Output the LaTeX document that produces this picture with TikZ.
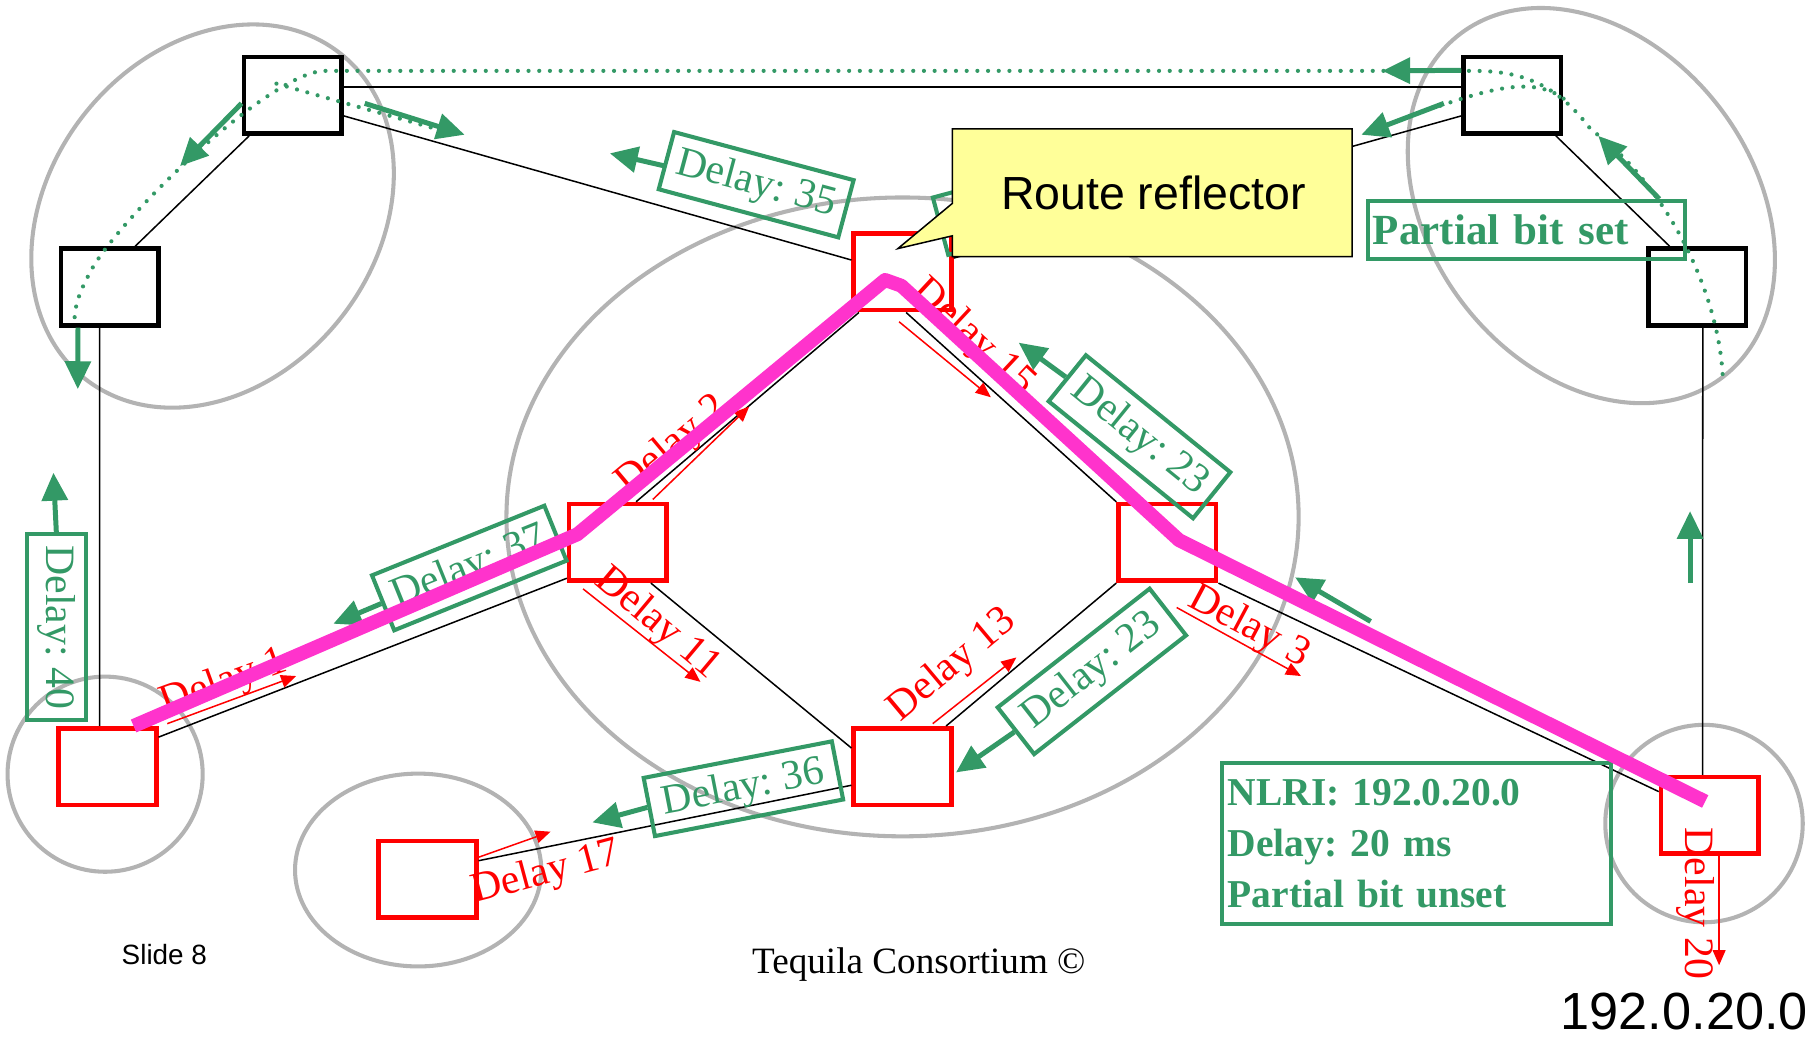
\documentclass[tikz,border=0pt]{standalone}
\usepackage{fontspec}
\setmainfont{Liberation Serif}
\newfontfamily\arialfont{Liberation Sans}
\usetikzlibrary{arrows.meta}
\definecolor{sgreen}{HTML}{339966}
\definecolor{ringgray}{HTML}{B3B3B3}
\definecolor{pathpink}{HTML}{FF33CC}
\definecolor{noteyellow}{HTML}{FFFF99}
\frenchspacing
\begin{document}
\begin{tikzpicture}[
            x=1pt, y=-1pt,
            cluster/.style={draw=ringgray, line width=3.5},
            link/.style={draw=black, line width=1.3},
            router/.style={draw=black, line width=4, fill=white, minimum width=84, minimum height=66, inner sep=0},
            redrouter/.style={router, draw=red},
            greenbox/.style={draw=sgreen, line width=3.5, text=sgreen, font=\fontsize{36}{40}\selectfont, minimum width=160, minimum height=51, inner sep=0},
            infobox/.style={greenbox, font=\bfseries\fontsize{34}{44}\selectfont, align=left},
            greenarrow/.style={draw=sgreen, line width=4.3, -{Triangle[length=24pt,width=22pt]}},
            redarrow/.style={draw=red, line width=1.3, -{Triangle[length=13pt,width=11pt]}},
            redlabel/.style={text=red, font=\fontsize{36}{40}\selectfont, inner sep=0},
            propdots/.style={draw=sgreen, line width=3.6, line cap=round, dash pattern=on 0pt off 9.2pt},
            bestpath/.style={draw=pathpink, line width=12, line join=round}
        ]
        \useasboundingbox (0,0) rectangle (1566,895);

        % clusters
        \coordinate (tlc) at (183,186);
        \coordinate (trc) at (1370,177);
        \draw[cluster, rotate around={52:(tlc)}] (tlc) ellipse [x radius=178, y radius=141];
        \draw[cluster, rotate around={-52.5:(trc)}] (trc) ellipse [x radius=186, y radius=139];
        \draw[cluster] (777,445) ellipse [x radius=341, y radius=275];
        \draw[cluster] (90.5,666.5) ellipse [x radius=84, y radius=84];
        \draw[cluster] (360,749) ellipse [x radius=106, y radius=83];
        \draw[cluster] (1467,709) ellipse [x radius=85, y radius=85];

        % routers
        \node[router] (tl1) at (252,82) {};
        \node[router] (tl2) at (94.5,247) {};
        \node[router] (tr1) at (1302,82) {};
        \node[router] (tr2) at (1461,247) {};
        \node[redrouter] (rr) at (777,234) {};
        \node[redrouter] (cl) at (532,467) {};
        \node[redrouter] (cr) at (1005,467) {};
        \node[redrouter] (cb) at (777,660) {};
        \node[redrouter] (bl) at (92.5,660) {};
        \node[redrouter] (bs) at (368,757) {};
        \node[redrouter] (br) at (1472,702) {};

        % links
        \draw[link] (tl1.9) -- (tr1.171);
        \draw[link] (tl1.-22) -- (rr.167);
        \draw[link] (tl1.-137) -- (tl2.58);
        \draw[link] (tl2.-104) -- (bl.101);
        \draw[link] (tr1.-43) -- (tr2.124);
        \draw[link] (tr1.-158) -- (rr.15);
        \draw[link] (tr2.-82) -- (br.100);
        \draw[link] (rr.-137) -- (cl.66);
        \draw[link] (rr.-85) -- (cr.north west);
        \draw[link] (cl.-145) -- (bl.30);
        \draw[link] (cl.-51) -- (cb.160);
        \draw[link] (cr.south west) -- (cb.43);
        \draw[link] (cr.south east) -- (br.155);
        \draw[link] (cb.-160) -- (bs.20);

        % propagation of the update
        \draw[propdots] (1483,322) .. controls (1478,240) and (1425,150) .. (1370,112)
            .. controls (1340,72) and (1310,61) .. (1268,61) -- (280,61)
            .. controls (235,61) and (110,180) .. (80,230)
            .. controls (66,255) and (64,265) .. (64,282);
        \draw[propdots] (238,72) -- (372,110);
        \draw[propdots] (1240,91) .. controls (1290,74) and (1325,66) .. (1350,88);

        % green labels
        \node[greenbox, rotate=-15] (dl35) at (651,159) {Delay: 35};
        \node[greenbox, rotate=-39] (dl23a) at (981,376) {Delay: 23};
        \node[greenbox, rotate=38, minimum width=166] (dl23b) at (940,578) {Delay: 23};
        \node[greenbox, rotate=22] (dl37) at (404,489) {Delay: 37};
        \node[greenbox, rotate=11, minimum width=165] (dl36) at (640,679) {Delay: 36};
        \node[greenbox, rotate=-90] (dl40) at (48.5,540) {Delay: 40};
        \node[greenbox, rotate=15] (dlrr) at (887,174) {};
        \node[infobox, font=\bfseries\fontsize{37}{44}\selectfont, text width=265, inner xsep=4, minimum height=50] (pbit) at (1314.5,198) {Partial bit set};
        \node[infobox, text width=325, inner xsep=5, minimum height=139] (nlri) at (1219.5,726) {NLRI: 192.0.20.0\\Delay: 20 ms\\Partial bit unset};

        % green arrows
        \coordinate (g1) at (155,143);
        \coordinate (g2a) at (314,89);
        \coordinate (g2) at (400,116);
        \coordinate (g3) at (67,335);
        \coordinate (g4) at (1190,61);
        \coordinate (g5a) at (1243,89);
        \coordinate (g5) at (1172,116);
        \coordinate (g6) at (1376,117);
        \coordinate (g7) at (525,132);
        \coordinate (g8) at (877,295);
        \coordinate (g9) at (46,407);
        \coordinate (g10) at (287,537);
        \coordinate (g11) at (510,708);
        \coordinate (g12) at (823,665);
        \coordinate (g13a) at (1180,535);
        \coordinate (g13) at (1115,497);
        \coordinate (g14a) at (1455,502);
        \coordinate (g14) at (1455,440);
        \draw[greenarrow] (tl1.-171) -- (g1);
        \draw[greenarrow] (g2a) -- (g2);
        \draw[greenarrow] (tl2.-128) -- (g3);
        \draw[greenarrow] (tr1.154) -- (g4);
        \draw[greenarrow] (g5a) -- (g5);
        \draw[greenarrow] ([xshift=114pt]pbit.north) -- (g6);
        \draw[greenarrow] ([yshift=-5pt]dl35.west) -- (g7);
        \draw[greenarrow] (dl23a.west) -- (g8);
        \draw[greenarrow] (dl40.west) -- (g9);
        \draw[greenarrow] (dl37.west) -- (g10);
        \draw[greenarrow] (dl36.west) -- (g11);
        \draw[greenarrow] (dl23b.west) -- (g12);
        \draw[greenarrow] (g13a) -- (g13);
        \draw[greenarrow] (g14a) -- (g14);

        % red delays
        \node[redlabel, rotate=20] (d1) at (193,588) {Delay 1};
        \node[redlabel, rotate=40] (d2) at (579,384) {Delay 2};
        \node[redlabel, rotate=-43] (d15) at (838,291) {Delay 15};
        \node[redlabel, rotate=-40] (d11) at (566,537) {Delay 11};
        \node[redlabel, rotate=40] (d13) at (820,573) {Delay 13};
        \node[redlabel, rotate=-28] (d3) at (1075,540) {Delay 3};
        \node[redlabel, rotate=15] (d17) at (470,752) {Delay 17};
        \node[redlabel, rotate=-90] (d20) at (1460,778) {Delay 20};
        \coordinate (d1a) at (144,623);
        \coordinate (d1b) at (255,582);
        \coordinate (d2a) at (562,430);
        \coordinate (d2b) at (645,350);
        \coordinate (d15a) at (774,277);
        \coordinate (d15b) at (853,342);
        \coordinate (d11a) at (502,507);
        \coordinate (d11b) at (603,587);
        \coordinate (d13a) at (803,623);
        \coordinate (d13b) at (875,566);
        \coordinate (d3a) at (1013,523);
        \coordinate (d3b) at (1120,582);
        \coordinate (d17a) at (412,738);
        \coordinate (d17b) at (474,716);
        \coordinate (d20a) at (1480,737);
        \coordinate (d20b) at (1480,831);
        \draw[redarrow] (d1a) -- (d1b);
        \draw[redarrow] (d2a) -- (d2b);
        \draw[redarrow] (d15a) -- (d15b);
        \draw[redarrow] (d11a) -- (d11b);
        \draw[redarrow] (d13a) -- (d13b);
        \draw[redarrow] (d3a) -- (d3b);
        \draw[redarrow] (d17a) -- (d17b);
        \draw[redarrow] (d20a) -- (d20b);

        % chosen path
        \coordinate (p0) at (115,625);
        \coordinate (p1) at (497,460);
        \coordinate (p2) at (762,241);
        \coordinate (p3) at (776,246);
        \coordinate (p4) at (1015,465);
        \coordinate (p5) at (1468,690);
        \draw[bestpath] (p0) -- (p1) -- (p2) -- (p3) -- (p4) -- (p5);

        % callout
        \path[draw=black, line width=1.3, fill=noteyellow] (820,111) -| (1164,221) -| (820,203) -- (773,214) -- (820,175) -- cycle;
        \node[font=\arialfont\fontsize{40}{48}\selectfont, inner sep=0] (rrnote) at (993,166) {Route reflector};

        % footer
        \node[font=\arialfont\fontsize{24}{28}\selectfont, inner sep=0] (slide) at (141.5,822) {Slide 8};
        \node[font=\fontsize{32}{38}\selectfont, inner sep=0] (owner) at (791,830.5) {Tequila Consortium ©};
        \node[font=\arialfont\fontsize{45}{52}\selectfont, inner sep=0] (prefix) at (1450,871) {192.0.20.0};
    \end{tikzpicture}
\end{document}
